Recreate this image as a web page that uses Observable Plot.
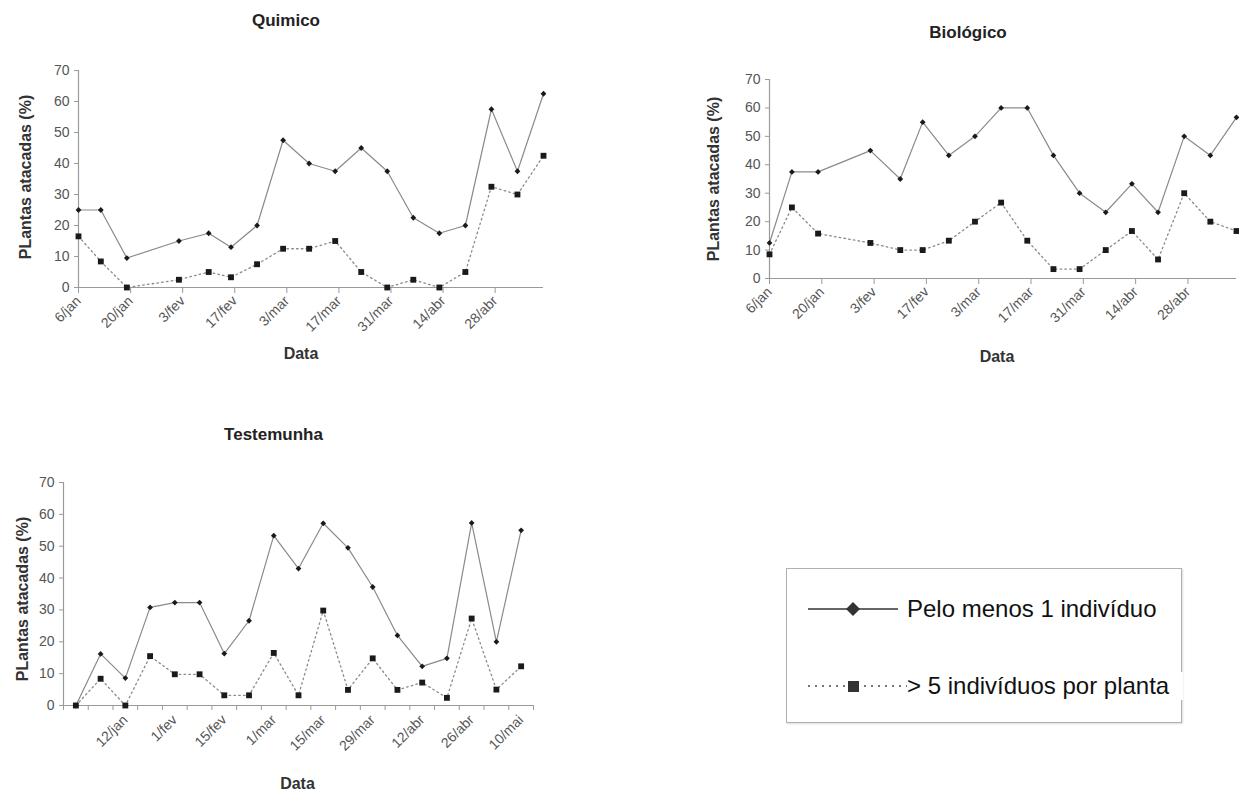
<!DOCTYPE html>
<html><head><meta charset="utf-8">
<script src="https://cdn.jsdelivr.net/npm/d3@7"></script>
<script src="https://cdn.jsdelivr.net/npm/@observablehq/plot@0.6"></script>
<style>
body{margin:0;background:#fff;font-family:"Liberation Sans",Arial,sans-serif;}
#root{position:relative;width:1239px;height:794px;overflow:hidden;background:#fff}
.chart{position:absolute}
.chart svg{overflow:visible}
#legend{position:absolute;left:786px;top:568px;width:394px;height:153px;border:1.5px solid #b0b0b0;box-shadow:1px 1px 2px #ddd;background:#fff}
.item{position:absolute;left:20px;display:flex;align-items:center;font-size:24px;color:#111;white-space:nowrap}
</style></head><body><div id="root">
<div id="legend">
  <div class="item" style="top:22px"><svg width="100" height="36" id="s1"></svg><span id="l1"></span></div>
  <div class="item" style="top:99px"><svg width="100" height="36" id="s2"></svg><span id="l2" style="background:#fff;padding-right:14px"></span></div>
</div>
</div>
<script>
// Sampling dates (Químico and Biológico)
const sampleDates = ["2003-01-06","2003-01-12","2003-01-19","2003-02-02","2003-02-10","2003-02-16","2003-02-23","2003-03-02","2003-03-09","2003-03-16","2003-03-23","2003-03-30","2003-04-06","2003-04-13","2003-04-20","2003-04-27","2003-05-04","2003-05-11"];
const dateTickDates = ["2003-01-06","2003-01-20","2003-02-03","2003-02-17","2003-03-03","2003-03-17","2003-03-31","2003-04-14","2003-04-28"];
const dateTickLabels = ["6/jan","20/jan","3/fev","17/fev","3/mar","17/mar","31/mar","14/abr","28/abr"];

const quimicoPelo  = [25, 25, 9.5, 15, 17.5, 13, 20, 47.5, 40, 37.5, 45, 37.5, 22.5, 17.5, 20, 57.5, 37.5, 62.5];
const quimicoMais5 = [16.5, 8.4, 0, 2.5, 5, 3.3, 7.5, 12.5, 12.5, 15, 5, 0, 2.5, 0, 5, 32.5, 30, 42.5];

const biologicoPelo  = [12.5, 37.5, 37.5, 45, 35, 55, 43.3, 50, 60, 60, 43.3, 30, 23.3, 33.3, 23.3, 50, 43.3, 56.7];
const biologicoMais5 = [8.5, 25, 15.8, 12.5, 10, 10, 13.3, 20, 26.7, 13.3, 3.3, 3.3, 10, 16.7, 6.7, 30, 20, 16.7];

// Testemunha (category axis, 19 samplings)
const testemunhaLabels = ["", "", "12/jan", "", "1/fev", "", "15/fev", "", "1/mar", "", "15/mar", "", "29/mar", "", "12/abr", "", "26/abr", "", "10/mai"];
const testemunhaPelo  = [0, 16.2, 8.6, 30.8, 32.3, 32.3, 16.3, 26.6, 53.3, 43, 57.2, 49.5, 37.2, 22, 12.3, 14.8, 57.3, 20, 55];
const testemunhaMais5 = [0, 8.4, 0, 15.5, 9.8, 9.8, 3.2, 3.2, 16.5, 3.2, 29.8, 4.9, 14.8, 4.9, 7.2, 2.4, 27.3, 5, 12.3];

const yTicks = [0, 10, 20, 30, 40, 50, 60, 70];
const yLabel = "PLantas atacadas (%)";
const xLabel = "Data";
const legendLabels = ["Pelo menos 1 indivíduo", "> 5 indivíduos por planta"];

const FONT = "Liberation Sans, Arial, sans-serif";
const AX = "#9a9a9a", TXT = "#555", MK = "#1a1a1a", LN = "#8a8a8a";

function seriesMarks(data, x) {
  return [
    Plot.line(data, {x, y: "mais5", stroke: LN, strokeWidth: 1.3, strokeDasharray: "1.6,3.2"}),
    Plot.line(data, {x, y: "pelo", stroke: LN, strokeWidth: 1.2}),
    Plot.dot(data, {x, y: "mais5", symbol: "square", r: 3.3, fill: MK, stroke: "none"}),
    Plot.dot(data, {x, y: "pelo", symbol: "diamond2", r: 2.6, fill: MK, stroke: "none"})
  ];
}
function labelMarks(title, t) {
  return [
    Plot.text([title], {frameAnchor: "top", text: d => d, dx: t.tdx, dy: t.tdy, fontWeight: "bold", fontSize: 17, fill: "#222", lineAnchor: "middle", textAnchor: "middle"}),
    Plot.text([yLabel], {frameAnchor: "left", text: d => d, rotate: -90, dx: t.ydx, dy: t.ydy, fontWeight: "bold", fontSize: 16, fill: "#333", textAnchor: "middle", lineAnchor: "middle"}),
    Plot.text([xLabel], {frameAnchor: "bottom", text: d => d, dx: t.xdx, dy: t.xdy, fontWeight: "bold", fontSize: 16, fill: "#333", textAnchor: "middle", lineAnchor: "middle"})
  ];
}

function dateChart(title, pelo, mais5, pos, t, rot) {
  const data = sampleDates.map((d, i) => ({date: new Date(d), pelo: pelo[i], mais5: mais5[i]}));
  const ticks = dateTickDates.map(d => new Date(d));
  const fmt = new Map(ticks.map((d, i) => [+d, dateTickLabels[i]]));
  const start = new Date(sampleDates[0]), end = new Date(sampleDates[sampleDates.length - 1]);
  const p = Plot.plot({
    width: pos.w, height: pos.h,
    marginLeft: pos.ml, marginRight: pos.mr, marginTop: pos.mt, marginBottom: pos.mb,
    style: {fontFamily: FONT, background: "transparent", overflow: "visible"},
    x: {type: "utc", domain: [start, end]},
    y: {domain: [0, 70]},
    marks: [
      Plot.ruleY([0], {stroke: AX, strokeWidth: 1.2}),
      Plot.ruleX([start], {stroke: AX, strokeWidth: 1.2}),
      Plot.axisY({ticks: yTicks, tickSize: 4, tickPadding: 5, label: null, stroke: AX, fill: TXT, fontSize: 14}),
      Plot.axisX({ticks, tickFormat: d => fmt.get(+d), tickRotate: rot, tickSize: 6, tickPadding: 5, label: null, stroke: AX, fill: TXT, fontSize: 14}),
      ...seriesMarks(data, "date"),
      ...labelMarks(title, t)
    ]
  });
  p.classList.add("chart");
  p.style.left = pos.x + "px"; p.style.top = pos.y + "px";
  document.getElementById("root").appendChild(p);
}

function catChart(title, pos, t, rot) {
  const data = testemunhaPelo.map((v, i) => ({i, pelo: v, mais5: testemunhaMais5[i]}));
  const n = testemunhaLabels.length;
  const bounds = d3.range(n + 1).map(k => k - 0.5);
  const labelIdx = testemunhaLabels.map((l, i) => l ? i : null).filter(i => i !== null);
  const p = Plot.plot({
    width: pos.w, height: pos.h,
    marginLeft: pos.ml, marginRight: pos.mr, marginTop: pos.mt, marginBottom: pos.mb,
    style: {fontFamily: FONT, background: "transparent", overflow: "visible"},
    x: {type: "linear", domain: [-0.5, n - 0.5]},
    y: {domain: [0, 70]},
    marks: [
      Plot.ruleY([0], {stroke: AX, strokeWidth: 1.2}),
      Plot.ruleX([-0.5], {stroke: AX, strokeWidth: 1.2}),
      Plot.axisY({ticks: yTicks, tickSize: 4, tickPadding: 5, label: null, stroke: AX, fill: TXT, fontSize: 14}),
      Plot.axisX({ticks: bounds, tickFormat: () => "", tickSize: 5, label: null, stroke: AX}),
      Plot.axisX({ticks: labelIdx, tickFormat: i => testemunhaLabels[i], tickRotate: rot, tickSize: 0, tickPadding: 12, label: null, fill: TXT, fontSize: 14}),
      ...seriesMarks(data, "i"),
      ...labelMarks(title, t)
    ]
  });
  p.classList.add("chart");
  p.style.left = pos.x + "px"; p.style.top = pos.y + "px";
  document.getElementById("root").appendChild(p);
}

// Químico: frame x 78..543, y 70..287
dateChart("Quimico", quimicoPelo, quimicoMais5,
  {x: 0, y: 0, w: 560, h: 375, ml: 78, mr: 17, mt: 70, mb: 88},
  {tdx: -25, tdy: -50, ydx: -53, ydy: -2, xdx: -10, xdy: 66}, -45);
// Biológico: frame x 769..1236, y 79..278
dateChart("Biológico", biologicoPelo, biologicoMais5,
  {x: 690, y: 0, w: 549, h: 375, ml: 79, mr: 3, mt: 79, mb: 97},
  {tdx: -35, tdy: -47, ydx: -56, ydy: 0, xdx: -6, xdy: 78}, -45);
// Testemunha: frame x 63..533, y 482..705
catChart("Testemunha",
  {x: 0, y: 400, w: 560, h: 394, ml: 63, mr: 27, mt: 82, mb: 89},
  {tdx: -25, tdy: -48, ydx: -41, ydy: 5, xdx: -1, xdy: 78}, -45);

// Legend
d3.select("#l1").text(legendLabels[0]);
d3.select("#l2").text(legendLabels[1]);
function sample(id, solid) {
  const svg = d3.select(id);
  svg.append("line").attr("x1", 1).attr("x2", solid ? 91 : 100).attr("y1", 18).attr("y2", 18)
    .attr("stroke", solid ? "#333" : "#777").attr("stroke-width", solid ? 1.5 : 2)
    .attr("stroke-dasharray", solid ? null : "2,5");
  if (solid) svg.append("path").attr("d", "M46,11L53,18L46,25L39,18Z").attr("fill", "#333");
  else svg.append("rect").attr("x", 41).attr("y", 13).attr("width", 11).attr("height", 11).attr("fill", "#333");
}
sample("#s1", true);
sample("#s2", false);
</script>
</body></html>
